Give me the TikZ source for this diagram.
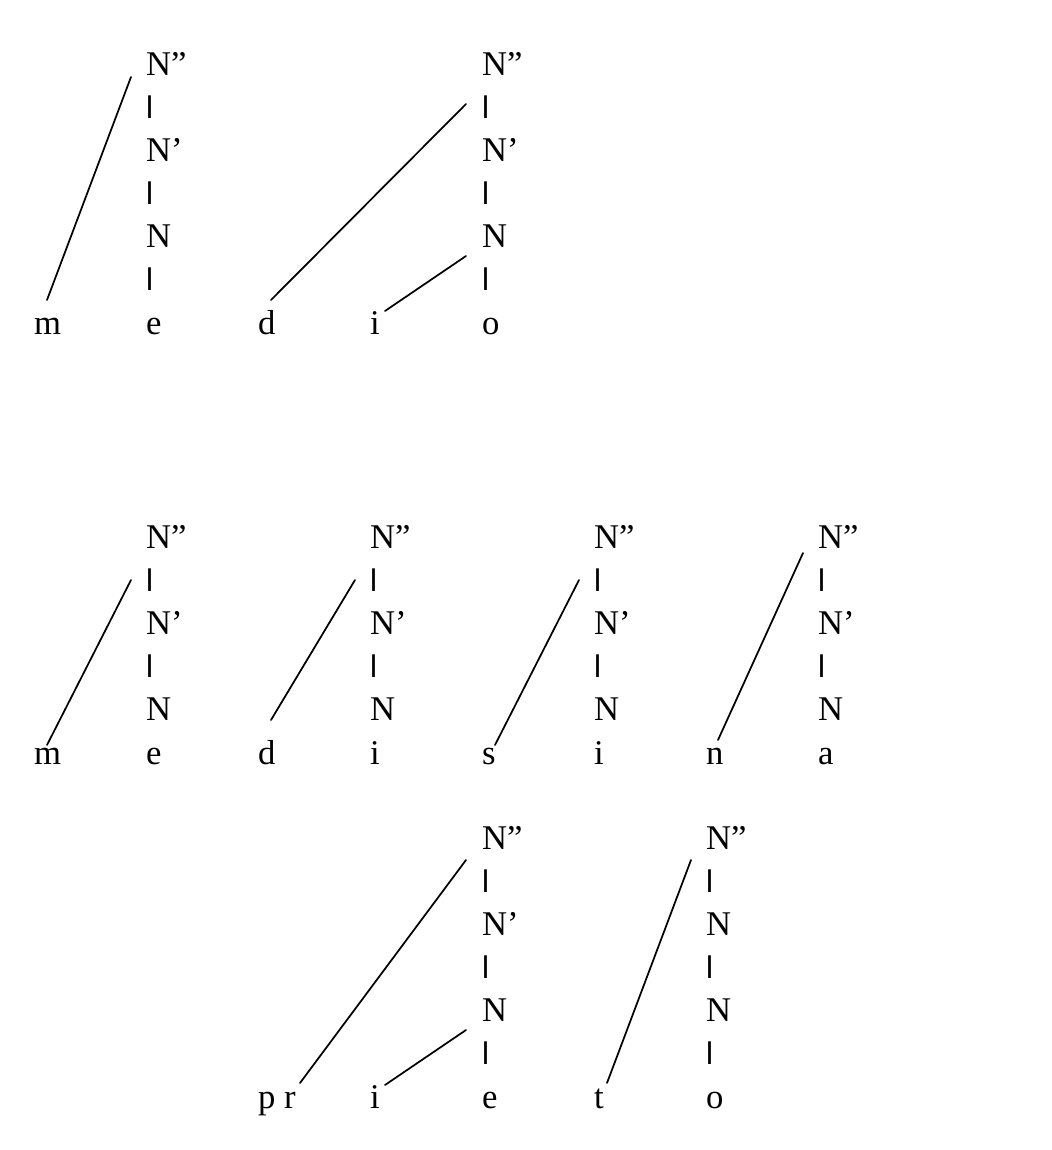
\documentclass[tikz,border=0pt]{standalone}
\usepackage{fontspec}
\setmainfont{Liberation Serif}
\newfontfamily\barfont{Liberation Sans}
\begin{document}
\begin{tikzpicture}[x=0.75pt,y=-0.75pt,
  lab/.style={inner sep=0pt, outer sep=0pt, anchor=base west, font=\fontsize{26}{26}\selectfont},
  vbar/.style={inner sep=0pt, outer sep=0pt, anchor=base west, font=\barfont\fontsize{23.5}{23.5}\selectfont},
  link/.style={line width=1.3pt, line cap=round}]
\useasboundingbox (0,0) rectangle (1052,1150);
% ---------- top group ----------
\node[lab]  (a0) at (146,75)  {N”};
\node[vbar] (a1) at (146,118) {l};
\node[lab]  (a2) at (146,161) {N’};
\node[vbar] (a3) at (146,204) {l};
\node[lab]  (a4) at (146,247) {N};
\node[vbar] (a5) at (146,290) {l};
\node[lab]  (tm) at (34,334)  {m};
\node[lab]  (te) at (146,334) {e};
\node[lab]  (td) at (258,334) {d};
\node[lab]  (ti) at (370,334) {i};
\node[lab]  (to) at (482,334) {o};
\node[lab]  (b0) at (482,75)  {N”};
\node[vbar] (b1) at (482,118) {l};
\node[lab]  (b2) at (482,161) {N’};
\node[vbar] (b3) at (482,204) {l};
\node[lab]  (b4) at (482,247) {N};
\node[vbar] (b5) at (482,290) {l};
\draw[link] ([shift={(-15,2)}]a0.base west) -- ([shift={(13,-34)}]tm.base west);
\draw[link] ([shift={(-16,29)}]b0.base west) -- ([shift={(13,-34)}]td.base west);
\draw[link] ([shift={(-16,9)}]b4.base west) -- ([shift={(15,-23)}]ti.base west);
% ---------- middle group ----------
\foreach \c/\x in {c/146,d/370,e/594,f/818}{
  \node[lab]  (\c0) at (\x,548) {N”};
  \node[vbar] (\c1) at (\x,591) {l};
  \node[lab]  (\c2) at (\x,634) {N’};
  \node[vbar] (\c3) at (\x,677) {l};
  \node[lab]  (\c4) at (\x,720) {N};
}
\node[lab] (mm) at (34,764)  {m};
\node[lab] (me) at (146,764) {e};
\node[lab] (md) at (258,764) {d};
\node[lab] (mi) at (370,764) {i};
\node[lab] (ms) at (482,764) {s};
\node[lab] (mj) at (594,764) {i};
\node[lab] (mn) at (706,764) {n};
\node[lab] (ma) at (818,764) {a};
\draw[link] ([shift={(-15,32)}]c0.base west) -- ([shift={(13,-19)}]mm.base west);
\draw[link] ([shift={(-15,32)}]d0.base west) -- ([shift={(13,-44)}]md.base west);
\draw[link] ([shift={(-15,32)}]e0.base west) -- ([shift={(13,-19)}]ms.base west);
\draw[link] ([shift={(-15,5)}]f0.base west) -- ([shift={(12,-24)}]mn.base west);
% ---------- bottom group ----------
\node[lab]  (g0) at (482,849)  {N”};
\node[vbar] (g1) at (482,892)  {l};
\node[lab]  (g2) at (482,935)  {N’};
\node[vbar] (g3) at (482,978)  {l};
\node[lab]  (g4) at (482,1021) {N};
\node[vbar] (g5) at (482,1064) {l};
\node[lab]  (h0) at (706,849)  {N”};
\node[vbar] (h1) at (706,892)  {l};
\node[lab]  (h2) at (706,935)  {N};
\node[vbar] (h3) at (706,978)  {l};
\node[lab]  (h4) at (706,1021) {N};
\node[vbar] (h5) at (706,1064) {l};
\node[lab] (bp) at (258,1108) {p r};
\node[lab] (bi) at (370,1108) {i};
\node[lab] (be) at (482,1108) {e};
\node[lab] (bt) at (594,1108) {t};
\node[lab] (bo) at (706,1108) {o};
\draw[link] ([shift={(-16,11)}]g0.base west) -- ([shift={(42,-25)}]bp.base west);
\draw[link] ([shift={(-16,9)}]g4.base west) -- ([shift={(15,-23)}]bi.base west);
\draw[link] ([shift={(-15,11)}]h0.base west) -- ([shift={(13,-25)}]bt.base west);
\end{tikzpicture}
\end{document}
